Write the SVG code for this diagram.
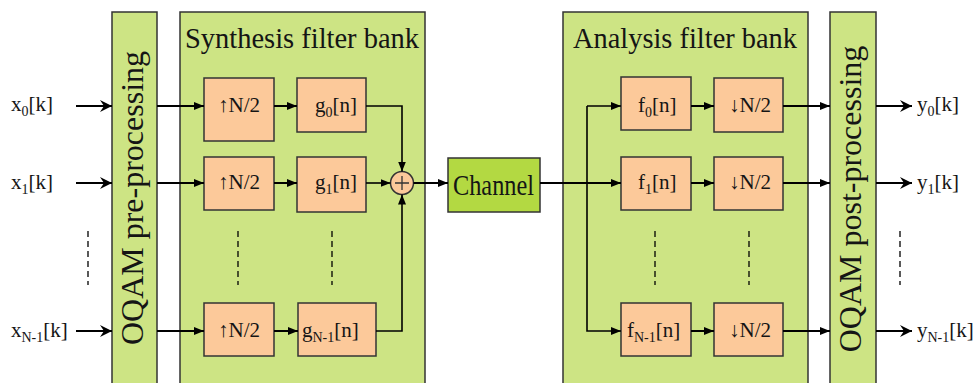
<svg xmlns="http://www.w3.org/2000/svg" width="974" height="383" viewBox="0 0 974 383">
<style>
.txt{font-family:"Liberation Serif","Times New Roman",serif;fill:#151515}
.big{fill:#cde484;stroke:#333;stroke-width:1.5}
.blk{fill:#fcc99a;stroke:#333;stroke-width:1.5}
.ch{fill:#b3d942;stroke:#333;stroke-width:1.5}
.ln{fill:none;stroke:#000;stroke-width:2}
.thin{fill:none;stroke:#000;stroke-width:1.6}
.dash{fill:none;stroke:#000;stroke-width:1.3;stroke-dasharray:6,4}
.lbl{font-size:21px}
.sub{font-size:14px}
</style>
<defs>
<marker id="ah" markerUnits="userSpaceOnUse" markerWidth="10" markerHeight="8" refX="10" refY="4" orient="auto">
<path d="M0,0 L10,4 L0,8 z" fill="#000"/>
</marker>
<marker id="ahb" markerUnits="userSpaceOnUse" markerWidth="13" markerHeight="12" refX="12" refY="6" orient="auto">
<path d="M0,0 L12,6 L0,12 L4,6 z" fill="#000"/>
</marker>
</defs>
<rect width="974" height="383" fill="#fff"/>

<g id="pre">
<rect class="big" x="112" y="12" width="45" height="380"/>
<text class="txt" font-size="32" text-anchor="middle" transform="translate(143,198) rotate(-90)">OQAM pre-processing</text>
</g>
<g id="synthesis">
<rect class="big" x="180" y="12" width="245" height="380"/>
<text class="txt" x="185" y="48" font-size="30" textLength="234" lengthAdjust="spacingAndGlyphs">Synthesis filter bank</text>
</g>
<g id="analysis">
<rect class="big" x="563" y="12" width="245" height="380"/>
<text class="txt" x="573" y="48" font-size="30" textLength="224" lengthAdjust="spacingAndGlyphs">Analysis filter bank</text>
</g>
<g id="post">
<rect class="big" x="830" y="12" width="46" height="380"/>
<text class="txt" font-size="32" text-anchor="middle" transform="translate(861,199) rotate(-90)">OQAM post-processing</text>
</g>

<g id="up0"><rect class="blk" x="204" y="78" width="70" height="63"/><text class="txt lbl" x="239" y="112" text-anchor="middle">↑N/2</text></g>
<g id="up1"><rect class="blk" x="204" y="157" width="70" height="53"/><text class="txt lbl" x="239" y="189" text-anchor="middle">↑N/2</text></g>
<g id="upN"><rect class="blk" x="204" y="303" width="70" height="53"/><text class="txt lbl" x="239" y="337" text-anchor="middle">↑N/2</text></g>

<g id="g0"><rect class="blk" x="297" y="78" width="69" height="54"/><text class="txt lbl" x="315" y="112">g<tspan class="sub" dy="5">0</tspan><tspan dy="-5">[n]</tspan></text></g>
<g id="g1"><rect class="blk" x="297" y="157" width="69" height="55"/><text class="txt lbl" x="315" y="189">g<tspan class="sub" dy="5">1</tspan><tspan dy="-5">[n]</tspan></text></g>
<g id="gN"><rect class="blk" x="298" y="303" width="78" height="53"/><text class="txt lbl" x="302" y="337">g<tspan class="sub" dy="5">N-1</tspan><tspan dy="-5">[n]</tspan></text></g>

<g id="sum"><circle cx="402" cy="183" r="11.5" fill="#fcc99a" stroke="#333" stroke-width="1.5"/><path d="M395,183 H409 M402,176 V190" stroke="#333" stroke-width="1.3" fill="none"/></g>

<g id="channel"><rect class="ch" x="448" y="158" width="92" height="54"/><text class="txt" x="453" y="195" font-size="30" textLength="81" lengthAdjust="spacingAndGlyphs">Channel</text></g>

<g id="f0"><rect class="blk" x="621" y="77" width="70" height="53"/><text class="txt lbl" x="638" y="112">f<tspan class="sub" dy="5">0</tspan><tspan dy="-5">[n]</tspan></text></g>
<g id="f1"><rect class="blk" x="621" y="157" width="70" height="53"/><text class="txt lbl" x="638" y="189">f<tspan class="sub" dy="5">1</tspan><tspan dy="-5">[n]</tspan></text></g>
<g id="fN"><rect class="blk" x="621" y="303" width="70" height="53"/><text class="txt lbl" x="627" y="337">f<tspan class="sub" dy="5">N-1</tspan><tspan dy="-5">[n]</tspan></text></g>

<g id="down0"><rect class="blk" x="714" y="78" width="69" height="54"/><text class="txt lbl" x="750" y="112" text-anchor="middle">↓N/2</text></g>
<g id="down1"><rect class="blk" x="714" y="157" width="69" height="53"/><text class="txt lbl" x="750" y="189" text-anchor="middle">↓N/2</text></g>
<g id="downN"><rect class="blk" x="714" y="303" width="69" height="53"/><text class="txt lbl" x="750" y="337" text-anchor="middle">↓N/2</text></g>

<g id="inputs">
<text class="txt lbl" x="11" y="111">x<tspan class="sub" dy="5">0</tspan><tspan dy="-5">[k]</tspan></text>
<text class="txt lbl" x="11" y="189">x<tspan class="sub" dy="5">1</tspan><tspan dy="-5">[k]</tspan></text>
<text class="txt lbl" x="11" y="337">x<tspan class="sub" dy="5">N-1</tspan><tspan dy="-5">[k]</tspan></text>
</g>
<g id="outputs">
<text class="txt lbl" x="917" y="111">y<tspan class="sub" dy="5">0</tspan><tspan dy="-5">[k]</tspan></text>
<text class="txt lbl" x="917" y="189">y<tspan class="sub" dy="5">1</tspan><tspan dy="-5">[k]</tspan></text>
<text class="txt lbl" x="917" y="337">y<tspan class="sub" dy="5">N-1</tspan><tspan dy="-5">[k]</tspan></text>
</g>

<g id="connectors">
<path class="ln" d="M76,106 H112" stroke-width="2.5" marker-end="url(#ahb)"/>
<path class="ln" d="M76,183 H112" stroke-width="2.5" marker-end="url(#ahb)"/>
<path class="ln" d="M76,331 H112" stroke-width="2.5" marker-end="url(#ahb)"/>
<path class="ln" d="M157,106 H204" marker-end="url(#ah)"/>
<path class="ln" d="M157,183 H204" marker-end="url(#ah)"/>
<path class="ln" d="M157,331 H204" marker-end="url(#ah)"/>
<path class="ln" d="M274,106 H297" marker-end="url(#ah)"/>
<path class="ln" d="M274,183 H297" marker-end="url(#ah)"/>
<path class="ln" d="M274,331 H298" marker-end="url(#ah)"/>
<path class="thin" d="M366,106 H402 V171.5" marker-end="url(#ah)"/>
<path class="thin" d="M366,183 H390.5" marker-end="url(#ah)"/>
<path class="thin" d="M376,331 H402 V194.5" marker-end="url(#ah)"/>
<path class="ln" d="M413.5,183 H448" marker-end="url(#ah)"/>
<path class="ln" d="M540,183 H621" marker-end="url(#ah)"/>
<path class="thin" d="M587,106 V331 H621" marker-end="url(#ah)"/>
<path class="thin" d="M587,106 H621" marker-end="url(#ah)"/>
<path class="ln" d="M691,106 H714" marker-end="url(#ah)"/>
<path class="ln" d="M691,183 H714" marker-end="url(#ah)"/>
<path class="ln" d="M691,331 H714" marker-end="url(#ah)"/>
<path class="ln" d="M783,106 H830" marker-end="url(#ah)"/>
<path class="ln" d="M783,183 H830" marker-end="url(#ah)"/>
<path class="ln" d="M783,331 H830" marker-end="url(#ah)"/>
<path class="ln" d="M876,106 H912" stroke-width="2.5" marker-end="url(#ahb)"/>
<path class="ln" d="M876,183 H912" stroke-width="2.5" marker-end="url(#ahb)"/>
<path class="ln" d="M876,331 H912" stroke-width="2.5" marker-end="url(#ahb)"/>
<path class="dash" d="M88,231 V285 M238,231 V285 M332,231 V285 M655,231 V285 M749,231 V285 M900,231 V285"/>
</g>
</svg>
